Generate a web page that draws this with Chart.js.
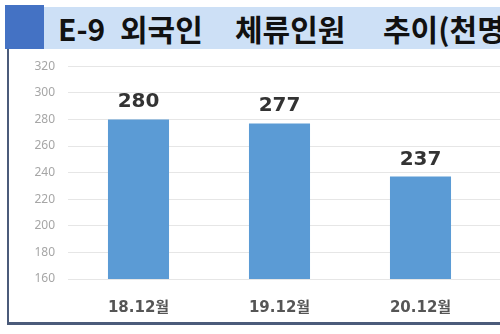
<!DOCTYPE html>
<html>
<head>
<meta charset="utf-8">
<script src="https://cdn.jsdelivr.net/npm/chart.js@4"></script>
<style>
  html, body { margin: 0; padding: 0; background: #fff; }
  body { width: 500px; height: 334px; overflow: hidden; position: relative; }
  .band { position: absolute; left: 44px; top: 7px; width: 456px; height: 42px; background: #cde0f6; }
  .square { position: absolute; left: 5px; top: 5px; width: 39px; height: 44px; background: #4472c4; }
  .vline { position: absolute; left: 7px; top: 49px; width: 2px; height: 276px; background: #4b5b7a; }
  .hline { position: absolute; left: 7px; top: 322px; width: 493px; height: 3px; background: #4b5b7a; }
  .title { position: absolute; top: 7px; line-height: 42px; font-family: "Noto Sans CJK KR", sans-serif;
           font-weight: bold; font-size: 30px; color: #111; white-space: pre; }
  .chartBox { position: absolute; left: 0; top: 46px; width: 640px; height: 276px; }
</style>
</head>
<body>
<div class="band"></div>
<div class="square"></div>
<span class="title" style="left:58px">E-9</span>
<span class="title" style="left:120px">외국인</span>
<span class="title" style="left:235px">체류인원</span>
<span class="title" style="left:383px">추이(천명)</span>
<div class="vline"></div>
<div class="chartBox"><canvas id="chart"></canvas></div>
<div class="hline"></div>
<script>
// E-9 foreign residents, thousands (4th period is cropped out of the picture)
const categories = ['18.12월', '19.12월', '20.12월', ''];
const residents = [280, 277, 237, null];
const yTicks = [160, 180, 200, 220, 240, 260, 280, 300, 320];

const valueLabels = {
  id: 'valueLabels',
  afterDatasetsDraw(chart) {
    const ctx = chart.ctx;
    const meta = chart.getDatasetMeta(0);
    ctx.save();
    ctx.font = 'bold 20px "DejaVu Sans", sans-serif';
    ctx.fillStyle = '#333';
    ctx.textAlign = 'center';
    ctx.textBaseline = 'alphabetic';
    meta.data.forEach((bar, i) => {
      const v = residents[i];
      if (v == null) return;
      ctx.fillText(String(v), bar.x, bar.y - 12);
    });
    ctx.restore();
  }
};

new Chart(document.getElementById('chart').getContext('2d'), {
  type: 'bar',
  data: {
    labels: categories,
    datasets: [{
      data: residents,
      backgroundColor: '#5b9bd5',
      borderWidth: 0,
      categoryPercentage: 1,
      barPercentage: 0.433
    }]
  },
  options: {
    responsive: true,
    maintainAspectRatio: false,
    animation: false,
    layout: { padding: { top: 12, right: 8, bottom: 0, left: 0 } },
    plugins: {
      legend: { display: false },
      tooltip: { enabled: false }
    },
    scales: {
      x: {
        afterFit(scale) { scale.height = 43; },
        grid: { display: false, drawTicks: false },
        border: { display: false },
        ticks: {
          padding: 20,
          color: '#555',
          font: { family: '"DejaVu Sans", "Noto Sans CJK KR", sans-serif', size: 15, weight: 'bold' }
        }
      },
      y: {
        min: yTicks[0],
        max: yTicks[yTicks.length - 1],
        afterBuildTicks(scale) { scale.ticks = yTicks.map(v => ({ value: v })); },
        afterFit(scale) { scale.width = 68; },
        border: { display: false },
        grid: { color: '#e6e6e6', drawTicks: false },
        ticks: {
          padding: 13,
          color: '#a6a6a6',
          font: { family: '"Noto Sans", sans-serif', size: 12 }
        }
      }
    }
  },
  plugins: [valueLabels]
});
</script>
</body>
</html>
